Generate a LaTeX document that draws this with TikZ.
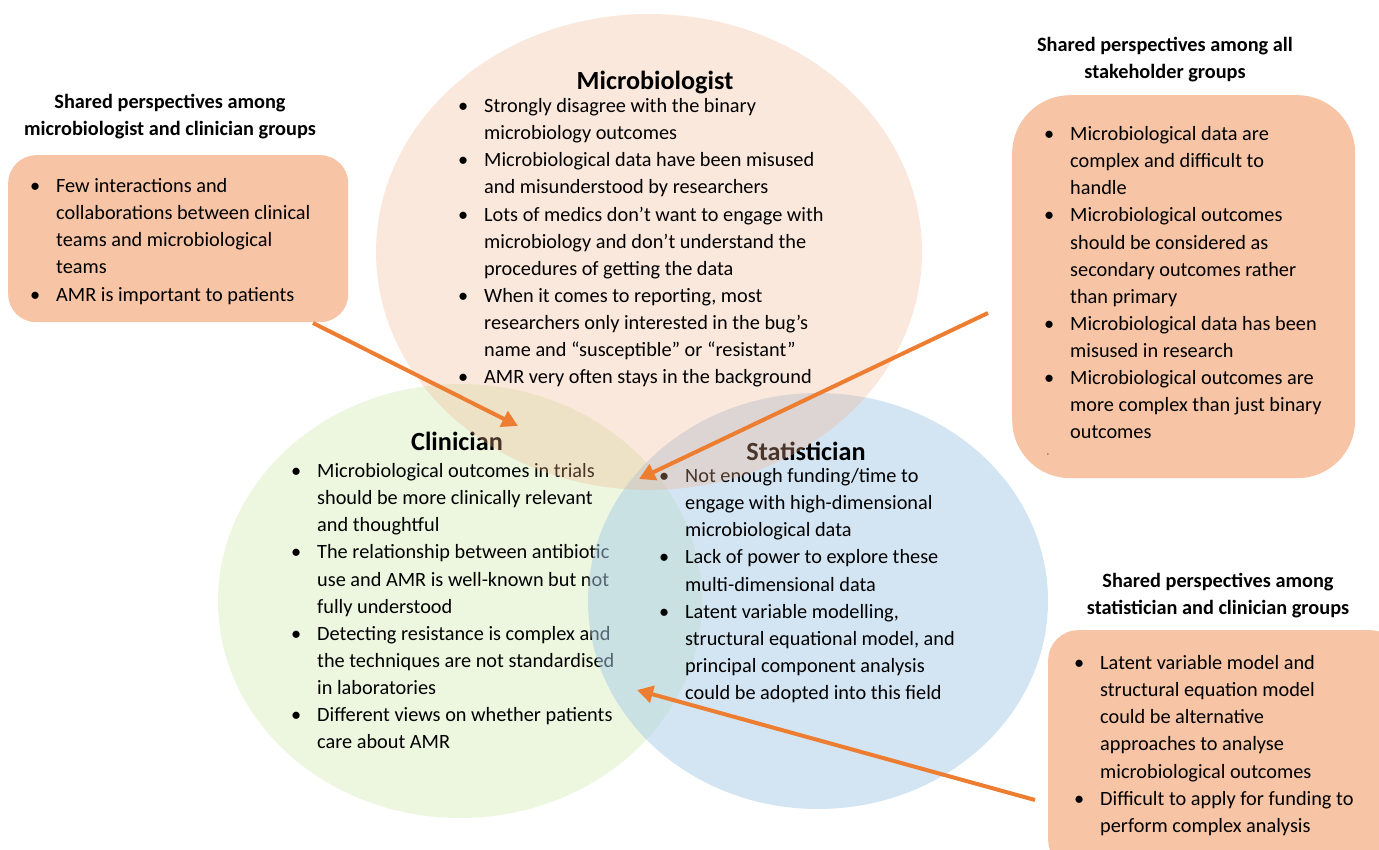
\documentclass[tikz,border=0pt]{standalone}
\usepackage{fontspec}
\setmainfont{Carlito}
\usetikzlibrary{arrows.meta}
\definecolor{peachc}{RGB}{242,178,138}
\definecolor{greenc}{RGB}{219,239,193}
\definecolor{bluec}{RGB}{167,203,231}
\definecolor{boxc}{RGB}{247,196,165}
\definecolor{arrc}{RGB}{237,125,49}
\newcommand\bu{\strut\llap{\textbullet\hspace{16pt}}}
\tikzset{
  list/.style={anchor=north west, inner sep=0pt, align=left, font=\fontsize{20.3}{27.1}\selectfont, text=black},
  ctitle/.style={anchor=base, inner sep=0pt, font=\fontsize{26.2}{30}\selectfont\bfseries},
  btitle/.style={anchor=north, inner sep=0pt, align=center, font=\fontsize{20.3}{27}\selectfont\bfseries},
  sbox/.style={anchor=north west, fill=boxc, draw=none, inner sep=0pt},
  arr/.style={draw=arrc, line width=4pt, -{Triangle[length=16pt,width=17pt]}}
}
\begin{document}
\begin{tikzpicture}[x=1pt,y=-1pt]
\useasboundingbox (0,0) rectangle (1379,850);
\clip (0,0) rectangle (1379,850);
% Clinician
\path[fill=greenc, fill opacity=0.5] (460,601) ellipse [x radius=242, y radius=217];
\node[ctitle] (ct) at (457,450) {Clinician};
\node[list] (cl) at (317,458.5) {\bu Microbiological outcomes in trials\\ should be more clinically relevant\\ and thoughtful\\
\bu The relationship between antibiotic\\ use and AMR is well-known but not\\ fully understood\\
\bu Detecting resistance is complex and\\ the techniques are not standardised\\ in laboratories\\
\bu Different views on whether patients\\ care about AMR};
% Statistician
\path[fill=bluec, fill opacity=0.5] (818,601) ellipse [x radius=230, y radius=208];
\node[ctitle] (st) at (806,460) {Statistician};
\node[list] (sl) at (685,463.5) {\bu Not enough funding/time to\\ engage with high-dimensional\\ microbiological data\\
\bu Lack of power to explore these\\ multi-dimensional data\\
\bu Latent variable modelling,\\ structural equational model, and\\ principal component analysis\\ could be adopted into this field};
% Microbiologist
\path[fill=peachc, fill opacity=0.3] (649,252) ellipse [x radius=273, y radius=238];
\node[ctitle] (mt) at (655,90) {Microbiologist};
\node[list] (ml) at (484,93.5) {\bu Strongly disagree with the binary\\ microbiology outcomes\\
\bu Microbiological data have been misused\\ and misunderstood by researchers\\
\bu Lots of medics don’t want to engage with\\ microbiology and don’t understand the\\ procedures of getting the data\\
\bu When it comes to reporting, most\\ researchers only interested in the bug’s\\ name and “susceptible” or “resistant”\\
\bu AMR very often stays in the background};
% Box 1
\node[btitle] (t1) at (170,89.5) {\strut Shared perspectives among\\ microbiologist and clinician groups};
\node[sbox, minimum width=340pt, minimum height=167pt, rounded corners=28pt] (b1) at (8,155) {};
\node[list] (l1) at (56,173.5) {\bu Few interactions and\\ collaborations between clinical\\ teams and microbiological\\ teams\\
\bu AMR is important to patients};
% Box 2
\node[btitle] (t2) at (1165,32.5) {\strut Shared perspectives among all\\ stakeholder groups};
\node[sbox, minimum width=343pt, minimum height=383pt, rounded corners=58pt] (b2) at (1012,95) {};
\node[list] (l2) at (1070,121.5) {\bu Microbiological data are\\ complex and difficult to\\ handle\\
\bu Microbiological outcomes\\ should be considered as\\ secondary outcomes rather\\ than primary\\
\bu Microbiological data has been\\ misused in research\\
\bu Microbiological outcomes are\\ more complex than just binary\\ outcomes};
\node[inner sep=0pt, font=\fontsize{7}{7}\selectfont] (dash) at (1048,455) {-};
% Box 3
\node[btitle] (t3) at (1218,568.5) {\strut Shared perspectives among\\ statistician and clinician groups};
\node[sbox, minimum width=352pt, minimum height=240pt, rounded corners=30pt] (b3) at (1048,630) {};
\node[list] (l3) at (1100,650.5) {\bu Latent variable model and\\ structural equation model\\ could be alternative\\ approaches to analyse\\ microbiological outcomes\\
\bu Difficult to apply for funding to\\ perform complex analysis};
% Arrows
\coordinate (a1s) at (313,323);
\coordinate (a1e) at (518,426);
\coordinate (a2s) at (988,313);
\coordinate (a2e) at (639,479);
\coordinate (a3s) at (1035,800);
\coordinate (a3e) at (637,690);
\draw[arr] (a1s) -- (a1e);
\draw[arr] (a2s) -- (a2e);
\draw[arr] (a3s) -- (a3e);
\end{tikzpicture}
\end{document}
